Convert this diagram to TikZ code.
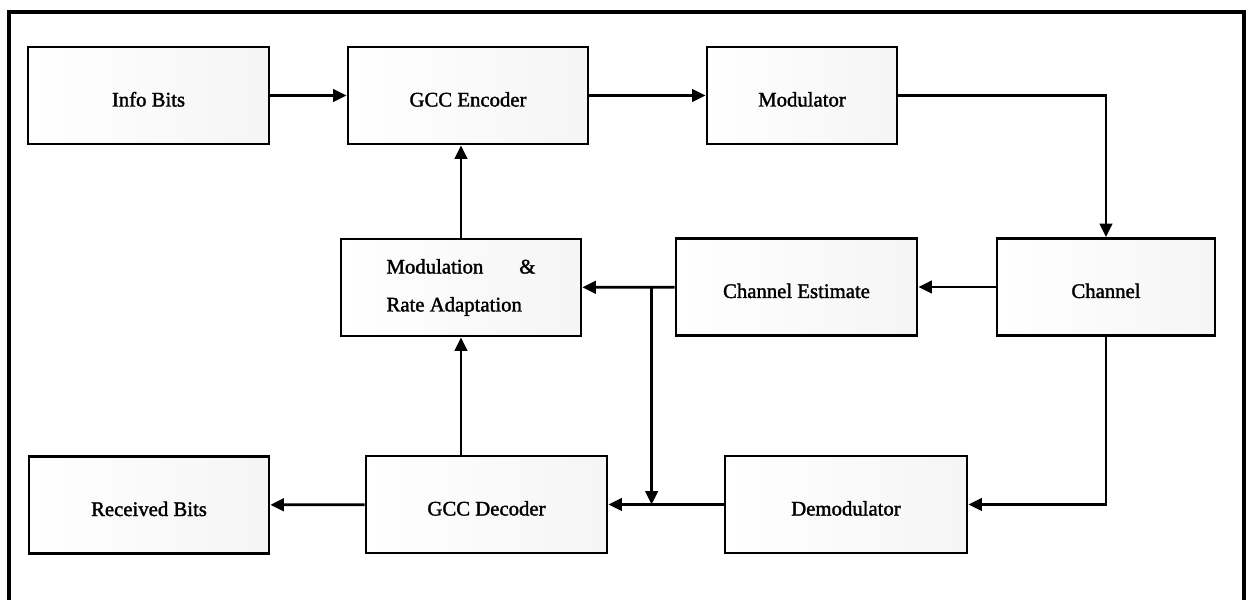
\documentclass[tikz,border=0pt]{standalone}
\usepackage{fontspec}
\setmainfont{Liberation Serif}
\newfontfamily\boxfont{Liberation Serif}[BoldFont=Liberation Serif, BoldFeatures={FakeBold=1.6}]
\usetikzlibrary{arrows.meta}

\begin{document}
\begin{tikzpicture}[
	blk/.style={draw, line width=1.6pt, minimum height=1.94cm, inner sep=0pt, left color=white, right color=black!4, font=\fontsize{11.8}{14}\boxfont\bfseries},
	one/.style={blk, text height=0.48cm, text depth=0.04cm},
	arr/.style={line width=1.6pt, -{Triangle[length=0.27cm, width=0.25cm]}}
]

\useasboundingbox (0,0) rectangle (24.96,12);

% frame, cut at the bottom
\draw[line width=2.5pt] (0.18,0)--(0.18,11.76)--(24.88,11.76)--(24.88,0);

% top row
\node[one, minimum width=4.82cm] (info)  at ( 2.97,10.09) {Info Bits};
\node[one, minimum width=4.80cm] (enc)   at ( 9.36,10.09) {GCC Encoder};
\node[one, minimum width=3.80cm] (mod)   at (16.04,10.09) {Modulator};

% middle row
\node[blk, minimum width=4.80cm, align=left] (adapt) at ( 9.22, 6.25) {Modulation\hspace{0.72cm}\&\\[7.6pt]Rate Adaptation};
\node[one, minimum width=4.82cm] (est)   at (15.93, 6.26) {Channel Estimate};
\node[one, minimum width=4.36cm] (chan)  at (22.12, 6.26) {Channel};

% bottom row
\node[one, minimum width=4.80cm] (recv)  at ( 2.98, 1.90) {Received Bits};
\node[one, minimum width=4.82cm] (dec)   at ( 9.73, 1.91) {GCC Decoder};
\node[one, minimum width=4.84cm] (demod) at (16.92, 1.91) {Demodulator};

% forward path
\draw[arr] (info) -- (enc);
\draw[arr] (enc) -- (mod);
\draw[arr] (mod.east) -| (chan.north);
\draw[arr] (chan.south) |- (demod.east);
\draw[arr] (demod) -- (dec);
\draw[arr] (dec) -- (recv);

% feedback
\draw[arr] (chan) -- (est);
\draw[arr] (est) -- (adapt);
\path (est.west) ++(-0.46,0) coordinate (split);
\draw[arr] (split) -- (split |- demod.west);
\draw[arr] (adapt.south |- dec.north) -- (adapt.south);
\draw[arr] (adapt.north) -- (adapt.north |- enc.south);

\end{tikzpicture}
\end{document}
